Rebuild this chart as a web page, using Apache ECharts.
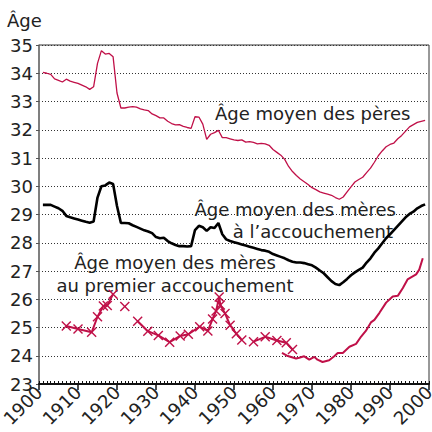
<!DOCTYPE html>
<html lang="fr">
<head>
<meta charset="UTF-8">
<title>Âge moyen des parents</title>
<script src="https://cdn.jsdelivr.net/npm/echarts@6/dist/echarts.min.js"></script>
<style>
  html, body { margin: 0; padding: 0; background: #fff; }
  #chart { width: 432px; height: 432px; }
</style>
</head>
<body>
<div id="chart"></div>
<script>
// âge moyen des pères
var peresAnnees = [1901,1902,1903,1904,1905,1906,1907,1908,1909,1910,1911,1912,1913,1914,1915,1916,1917,1918,1919,1920,
  1921,1922,1923,1924,1925,1926,1927,1928,1929,1930,1931,1932,1933,1934,1935,1936,1937,1938,1939,1940,
  1941,1942,1943,1944,1945,1946,1947,1948,1949,1950,1951,1952,1953,1954,1955,1956,1957,1958,1959,1960,
  1961,1962,1963,1964,1965,1966,1967,1968,1969,1970,1971,1972,1973,1974,1975,1976,1977,1978,1979,1980,
  1981,1982,1983,1984,1985,1986,1987,1988,1989,1990,1991,1992,1993,1994,1995,1996,1997,1998,1999];
var peresAges = [34.03,34.0,33.96,33.8,33.75,33.69,33.79,33.72,33.68,33.64,33.58,33.52,33.43,33.52,34.35,34.8,34.68,34.7,34.58,33.3,
  32.77,32.77,32.8,32.82,32.8,32.74,32.7,32.68,32.56,32.5,32.42,32.42,32.3,32.22,32.17,32.18,32.12,32.08,32.05,32.46,
  32.45,32.2,31.66,31.84,31.9,31.98,31.72,31.72,31.68,31.64,31.62,31.64,31.56,31.58,31.55,31.5,31.52,31.5,31.45,31.3,
  31.2,31.1,30.95,30.7,30.52,30.38,30.26,30.16,30.06,29.95,29.88,29.8,29.76,29.72,29.68,29.6,29.54,29.62,29.8,29.98,
  30.15,30.24,30.32,30.48,30.64,30.85,31.08,31.25,31.4,31.48,31.53,31.68,31.8,31.95,32.1,32.18,32.26,32.3,32.33];

// âge moyen des mères à l'accouchement
var meresAnnees = peresAnnees;
var meresAges = [29.34,29.34,29.34,29.28,29.22,29.13,28.95,28.9,28.86,28.82,28.78,28.74,28.71,28.75,29.6,30.0,30.03,30.13,30.08,29.3,
  28.7,28.7,28.69,28.62,28.56,28.5,28.44,28.4,28.34,28.2,28.16,28.18,28.06,27.98,27.92,27.88,27.88,27.87,27.88,28.45,
  28.6,28.55,28.42,28.55,28.52,28.7,28.3,28.12,28.06,28.02,27.98,27.94,27.9,27.86,27.82,27.78,27.74,27.72,27.68,27.6,
  27.55,27.5,27.45,27.38,27.33,27.3,27.3,27.28,27.24,27.2,27.12,27.02,26.92,26.78,26.64,26.54,26.5,26.6,26.72,26.85,
  26.95,27.04,27.12,27.3,27.45,27.65,27.8,27.98,28.16,28.3,28.45,28.6,28.75,28.9,29.02,29.1,29.22,29.3,29.36];

// âge moyen des mères au premier accouchement (enquêtes, avec croix ; null = interruption)
var premierAnnees = [1907,1910,1913.5,1915,1916.5,1917.5,1919,1920.5,1922,1923.5,1925.3,1927.9,1930.6,1933.5,1936.2,1938.3,
  1941.2,1943.3,1944.5,1945.4,1946.2,1946.5,1947.7,1949,1950.6,1952,1953.5,1955,1958,1961,1963.4,1965];
var premierAges = [25.05,24.95,24.83,25.38,25.76,25.78,26.18,null,25.74,null,25.22,24.87,24.72,24.48,24.7,24.76,
  25.03,24.88,25.3,25.58,26.08,25.8,25.5,25.08,24.78,24.56,null,24.5,24.67,24.54,24.46,24.22];

// âge moyen au premier accouchement (état civil, sans croix)
var premierEcAnnees = [1962.3,1963.8,1965.9,1966.7,1968,1969.3,1970.6,1971.4,1972.7,1974.4,1975.7,1976.6,1977.9,1979.6,
  1981.3,1982.6,1983.8,1985.1,1986,1987.3,1989,1990.7,1992,1993.3,1994.5,1996.7,1997.5,1998.4];
var premierEcAges = [24.1,23.99,23.9,23.93,23.98,23.86,23.96,23.86,23.78,23.84,23.98,24.1,24.1,24.32,
  24.42,24.68,24.88,25.18,25.27,25.52,25.88,26.1,26.12,26.4,26.7,26.88,27.05,27.45];

var police = 'DejaVu Sans';
var taille = 18;
var rouge = '#c01048';

function paires(annees, ages) {
  return annees.map(function (a, i) {
    return [a, ages[i] === null ? '-' : ages[i]];
  });
}

function texte(x, y, s, align) {
  return {
    type: 'text', x: x, y: y,
    style: { text: s, font: taille + 'px "DejaVu Sans"', fill: '#222', align: align, verticalAlign: 'middle' }
  };
}

var chart = echarts.init(document.getElementById('chart'), null, { renderer: 'svg' });

var option = {
  backgroundColor: '#fff',
  animation: false,
  grid: {
    left: 39, right: 3, top: 45, bottom: 48,
    show: true, borderColor: '#333', borderWidth: 1,
    outerBoundsMode: 'none'
  },
  xAxis: [{
    type: 'value', min: 1900, max: 2000, interval: 10,
    axisLine: { show: true, lineStyle: { color: '#111', width: 2 } },
    axisTick: { show: true, length: 6, lineStyle: { color: '#111', width: 1.5 } },
    axisLabel: {
      rotate: 45, margin: 5, color: '#222', fontFamily: police, fontSize: taille,
      hideOverlap: false,
      formatter: function (v) { return String(v); }
    },
    splitLine: { show: false }
  }, {
    // petites graduations annuelles
    type: 'value', min: 1900, max: 2000, interval: 1, position: 'bottom',
    axisLine: { show: false },
    axisTick: { show: true, inside: true, length: 3, lineStyle: { color: '#111', width: 1 } },
    axisLabel: { show: false },
    splitLine: { show: false }
  }],
  yAxis: {
    type: 'value', min: 23, max: 35, interval: 1,
    axisLine: { show: true, lineStyle: { color: '#777', width: 1.5 } },
    axisTick: { show: true, length: 3, lineStyle: { color: '#555' } },
    axisLabel: { margin: 6, color: '#222', fontFamily: police, fontSize: taille },
    splitLine: { show: true, lineStyle: { color: '#333', width: 1, type: [1, 2] } }
  },
  series: [{
    name: 'pères', type: 'line', xAxisIndex: 0,
    data: paires(peresAnnees, peresAges),
    showSymbol: false, symbol: 'none',
    lineStyle: { color: rouge, width: 1.3 }
  }, {
    name: 'mères', type: 'line', xAxisIndex: 0,
    data: paires(meresAnnees, meresAges),
    showSymbol: false, symbol: 'none',
    lineStyle: { color: '#000', width: 2.6 }
  }, {
    name: 'premier', type: 'line', xAxisIndex: 0,
    data: paires(premierAnnees, premierAges),
    connectNulls: false,
    symbol: 'path://M0,1L1,0L5,4L9,0L10,1L6,5L10,9L9,10L5,6L1,10L0,9L4,5Z',
    symbolSize: 10, showSymbol: true,
    itemStyle: { color: rouge },
    lineStyle: { color: rouge, width: 2 }
  }, {
    name: 'premier état civil', type: 'line', xAxisIndex: 0,
    data: paires(premierEcAnnees, premierEcAges),
    showSymbol: false, symbol: 'none',
    lineStyle: { color: rouge, width: 2 }
  }],
  graphic: [
    texte(7, 20, 'Âge', 'left'),
    texte(215, 113, 'Âge moyen des pères', 'left'),
    texte(396, 209, 'Âge moyen des mères', 'right'),
    texte(393, 231, 'à l’accouchement', 'right'),
    texte(175, 262, 'Âge moyen des mères', 'center'),
    texte(175, 285, 'au premier accouchement', 'center')
  ]
};

chart.setOption(option);
</script>
</body>
</html>
